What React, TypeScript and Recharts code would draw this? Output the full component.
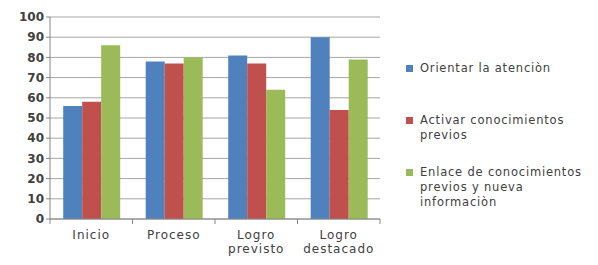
import React from 'react';
import { BarChart, Bar, XAxis, YAxis, CartesianGrid, Legend } from 'recharts';

document.body.style.margin = '0';

const categories = ['Inicio', 'Proceso', 'Logro\nprevisto', 'Logro\ndestacado'];
const orientar = [56, 78, 81, 90];
const activar = [58, 77, 77, 54];
const enlace = [86, 80, 64, 79];
const yTicks = [0, 10, 20, 30, 40, 50, 60, 70, 80, 90, 100];

const series = [
  { key: 'orientar', name: 'Orientar la atenciòn', color: '#4F81BD' },
  { key: 'activar', name: 'Activar conocimientos\nprevios', color: '#C0504D' },
  { key: 'enlace', name: 'Enlace de conocimientos\nprevios y nueva\ninformaciòn', color: '#9BBB59' },
];

const data = categories.map((name, i) => ({
  name,
  orientar: orientar[i],
  activar: activar[i],
  enlace: enlace[i],
}));

const FONT = '"DejaVu Sans", Verdana, sans-serif';
const TEXT = '#404040';
const AXIS = '#868686';

// category label plus the small tick marks on the band edges (Excel style)
const CategoryTick = (props: any) => {
  const { x, y, payload, index, visibleTicksCount } = props;
  const half = payload?.offset ?? 0;
  const lines = String(payload.value).split('\n');
  const isLast = index === (visibleTicksCount ?? categories.length) - 1;
  return (
    <g>
      <line x1={x - half} x2={x - half} y1={y} y2={y + 5} stroke={AXIS} />
      {isLast && <line x1={x + half} x2={x + half} y1={y} y2={y + 5} stroke={AXIS} />}
      <text x={x} y={y + 20} textAnchor="middle" fontFamily={FONT} fontSize={12} letterSpacing={1} fill={TEXT}>
        {lines.map((l, i) => (
          <tspan key={i} x={x} dy={i === 0 ? 0 : 14}>
            {l}
          </tspan>
        ))}
      </text>
    </g>
  );
};

const LegendContent = () => (
  <div style={{ fontFamily: FONT, fontSize: 11.5, letterSpacing: 0.8, color: TEXT, paddingLeft: 26 }}>
    {series.map((s) => (
      <div key={s.key} style={{ height: 52, display: 'flex', alignItems: 'flex-start' }}>
        <span style={{ width: 7, height: 7, background: s.color, marginTop: 4, marginRight: 7, flexShrink: 0 }} />
        <span style={{ whiteSpace: 'pre', lineHeight: '15px' }}>{s.name}</span>
      </div>
    ))}
  </div>
);

export default function App() {
  return (
    <div style={{ width: 598, height: 265, background: '#fff' }}>
      <BarChart
        width={598}
        height={265}
        data={data}
        margin={{ top: 17, right: 0, left: 0, bottom: 0 }}
        barCategoryGap="16%"
        barGap={0}
      >
        <CartesianGrid horizontal vertical={false} stroke="#A6A6A6" />
        <XAxis
          dataKey="name"
          height={46}
          interval={0}
          tickLine={false}
          tickSize={0}
          tickMargin={0}
          axisLine={{ stroke: AXIS }}
          tick={<CategoryTick />}
        />
        <YAxis
          width={50}
          domain={[0, 100]}
          ticks={yTicks}
          interval={0}
          axisLine={{ stroke: AXIS }}
          tickLine={{ stroke: AXIS }}
          tickSize={4}
          tick={{ fontFamily: FONT, fontSize: 12, fontWeight: 'bold', fill: TEXT }}
        />
        <Legend
          layout="vertical"
          align="right"
          verticalAlign="top"
          content={<LegendContent />}
          wrapperStyle={{ position: 'absolute', left: 380, top: 61, width: 218 }}
        />
        {series.map((s) => (
          <Bar key={s.key} dataKey={s.key} name={s.name} fill={s.color} isAnimationActive={false} />
        ))}
      </BarChart>
    </div>
  );
}
